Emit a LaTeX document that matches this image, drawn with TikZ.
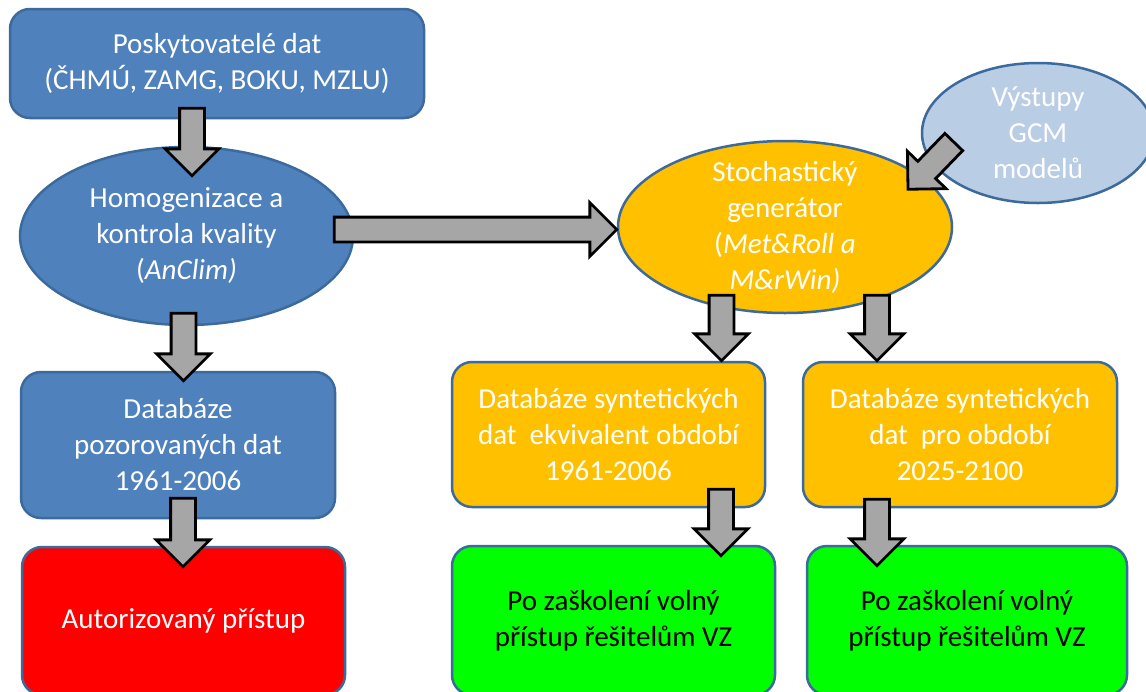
\documentclass[tikz,border=0pt]{standalone}
\usepackage{fontspec}
\setmainfont{Carlito}
\usetikzlibrary{shapes.geometric,shapes.arrows,calc}

\definecolor{boxblue}{HTML}{4F81BD}
\definecolor{edgeblue}{HTML}{3C6A9C}
\definecolor{gcmblue}{HTML}{B9CDE5}
\definecolor{synorange}{HTML}{FFC000}
\definecolor{freegreen}{HTML}{00FF00}
\definecolor{authred}{HTML}{FF0000}
\definecolor{arrgray}{HTML}{A6A6A6}

% block arrow from #1 (tail) to #2 (tip)
\newcommand{\blockarrow}[2]{%
  \path let \p1=($#2-#1$) in
    node[bigarrow, minimum height={veclen(\x1,\y1)}, rotate={atan2(\y1,\x1)}, anchor=tail] at #1 {};}

\begin{document}
\begin{tikzpicture}[x=1pt, y=-1pt,
    every node/.style={font=\fontsize{29}{36}\selectfont, align=center, text=white},
    databox/.style={rectangle, rounded corners=20pt, draw=edgeblue, line width=2.5pt},
    dataell/.style={ellipse, draw=edgeblue, line width=2.5pt, inner xsep=0pt, inner ysep=-8pt},
    bigarrow/.style={single arrow, draw=black, fill=arrgray, line width=2.8pt,
        inner xsep=0pt, inner ysep=11pt, outer sep=0pt,
        single arrow head extend=14.5pt, single arrow tip angle=90}]
    \path[use as bounding box, clip] (0,0) rectangle (1146,691);
    \fill[white] (0,0) rectangle (1146,691);

    % Observed data chain
    \node[databox, fill=boxblue, minimum width=414pt, minimum height=109pt] (prov) at (217,63.5)
        {Poskytovatelé dat\\(ČHMÚ, ZAMG, BOKU, MZLU)};
    \node[dataell, fill=boxblue, minimum width=333pt, minimum height=178pt] (homog) at (186.5,236)
        {Homogenizace a\\kontrola kvality\\(\textit{AnClim)}};
    \node[databox, fill=boxblue, minimum width=314pt, minimum height=146pt] (pozor) at (178,445)
        {Databáze\\pozorovaných dat\\1961-2006};
    \node[databox, fill=authred, minimum width=323pt, minimum height=148pt] (autor) at (183.5,621)
        {Autorizovaný přístup};

    % Generator chain
    \node[dataell, fill=synorange, minimum width=334pt, minimum height=172pt] (stoch) at (785,227)
        {Stochastický\\generátor\\(\textit{Met\&Roll a}\\\textit{M\&rWin)}};
    \node[dataell, fill=gcmblue, minimum width=232pt, minimum height=140pt] (gcm) at (1038,133)
        {Výstupy\\GCM\\modelů};
    \node[databox, fill=synorange, minimum width=313pt, minimum height=145pt] (syn1) at (608.5,434.5)
        {Databáze syntetických\\dat~ ekvivalent období\\1961-2006};
    \node[databox, fill=synorange, minimum width=314pt, minimum height=145pt] (syn2) at (960,434.5)
        {Databáze syntetických\\dat~ pro období\\2025-2100};
    \node[databox, fill=freegreen, text=black, minimum width=323pt, minimum height=149pt] (vol1) at (613.5,620.5)
        {Po zaškolení volný\\přístup řešitelům VZ};
    \node[databox, fill=freegreen, text=black, minimum width=320pt, minimum height=149pt] (vol2) at (967,620.5)
        {Po zaškolení volný\\přístup řešitelům VZ};

    % Arrows
    \blockarrow{([xshift=-25pt,yshift=11pt]prov.south)}{([xshift=5.5pt,yshift=-30pt]homog.north)}
    \blockarrow{([xshift=-3pt,yshift=13pt]homog.south)}{([xshift=5.5pt,yshift=-10pt]pozor.north)}
    \blockarrow{([xshift=5pt,yshift=21pt]pozor.south)}{([xshift=-0.5pt,yshift=-21pt]autor.north)}
    \blockarrow{([xshift=-20pt,yshift=6.5pt]homog.east)}{([yshift=-2.5pt]stoch.west)}
    \blockarrow{([xshift=33pt,yshift=-9pt]gcm.west)}{([xshift=4pt,yshift=-24pt]stoch.north east)}
    \blockarrow{([xshift=-63.5pt,yshift=19pt]stoch.south)}{([xshift=113pt]syn1.north)}
    \blockarrow{([xshift=92pt,yshift=19pt]stoch.south)}{([xshift=-83pt]syn2.north)}
    \blockarrow{([xshift=112.5pt,yshift=19pt]syn1.south)}{([xshift=107.5pt,yshift=-11pt]vol1.north)}
    \blockarrow{([xshift=-83pt,yshift=9pt]syn2.south)}{([xshift=-90pt,yshift=-21pt]vol2.north)}
\end{tikzpicture}
\end{document}
